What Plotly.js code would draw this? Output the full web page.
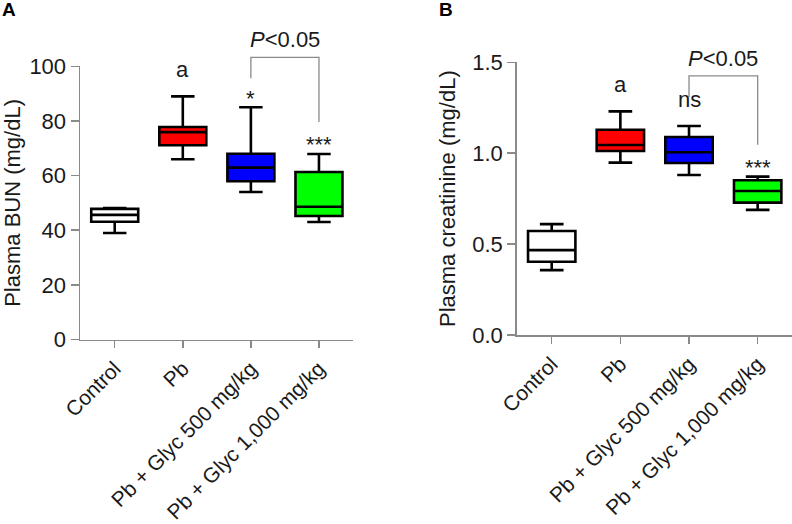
<!DOCTYPE html>
<html><head><meta charset="utf-8">
<script src="https://cdn.plot.ly/plotly-3.0.1.min.js"></script>
<style>html,body{margin:0;padding:0;background:#fff}</style>
</head><body><div id="chart" style="width:792px;height:524px"></div>
<script>
// ---- data ----
const categories = ['Control', 'Pb', 'Pb + Glyc 500 mg/kg', 'Pb + Glyc 1,000 mg/kg'];
// Panel A: plasma BUN (mg/dL)
const bunLower  = [39.0, 66.0, 54.0, 43.0];
const bunQ1     = [43.1, 71.1, 57.9, 45.2];
const bunMedian = [45.6, 75.9, 62.9, 48.6];
const bunQ3     = [47.8, 77.8, 68.0, 61.3];
const bunUpper  = [48.1, 89.0, 85.0, 67.9];
const bunSig    = ['', 'a', '*', '***'];
// Panel B: plasma creatinine (mg/dL)
const creLower  = [0.357, 0.948, 0.880, 0.688];
const creQ1     = [0.403, 1.012, 0.946, 0.728];
const creMedian = [0.467, 1.045, 1.005, 0.792];
const creQ3     = [0.572, 1.129, 1.089, 0.851];
const creUpper  = [0.610, 1.230, 1.150, 0.871];
const creSig    = ['', 'a', 'ns', '***'];
const bracketText = '<i>P</i><0.05';
const bracketPair = [2, 3];

// ---- styles ----
const fillColors = ['#ffffff', '#ff0000', '#0000ff', '#00ff00'];
const FONT = 'Liberation Sans, Arial, Helvetica, sans-serif';
const FS = 22;
const XFS = 21;
const TXT = '#1a1a1a';
const AXC = '#8a8a8a';
const W = 792, H = 524;
const xRange = [-0.51, 3.5];
const panels = [
  {xa: 'x', ya: 'y', lo: bunLower, q1: bunQ1, me: bunMedian, q3: bunQ3, up: bunUpper, sig: bunSig,
   yRange: [0, 100], xPix: [80, 353], yPix: [339.5, 66.3]},
  {xa: 'x2', ya: 'y2', lo: creLower, q1: creQ1, me: creMedian, q3: creQ3, up: creUpper, sig: creSig,
   yRange: [0, 1.5], xPix: [516.7, 792], yPix: [335, 62.3]}
];
const sigShift = {'a': 12, '*': -6, '***': -5, 'ns': 12, '': 0};

const traces = [];
const annotations = [];
const shapes = [];
panels.forEach(p => {
  categories.forEach((c, i) => {
    traces.push({
      type: 'box', x: [c], q1: [p.q1[i]], median: [p.me[i]], q3: [p.q3[i]],
      lowerfence: [p.lo[i]], upperfence: [p.up[i]],
      xaxis: p.xa, yaxis: p.ya, width: 0.69, whiskerwidth: 0.5,
      fillcolor: fillColors[i], line: {color: '#000', width: 2.6},
      showlegend: false, hoverinfo: 'skip'
    });
    if (p.sig[i]) {
      annotations.push({
        xref: p.xa, yref: p.ya, x: c, y: p.up[i], yanchor: 'bottom', yshift: sigShift[p.sig[i]],
        text: p.sig[i], showarrow: false, font: {family: FONT, size: FS, color: TXT}
      });
    }
  });
  // significance bracket between groups
  const plotH = p.yPix[0] - p.yPix[1];
  const yd = v => (v - p.yRange[0]) / (p.yRange[1] - p.yRange[0]);
  const xd = k => (k - xRange[0]) / (xRange[1] - xRange[0]);
  const a = bracketPair[0], b = bracketPair[1];
  const top = Math.max(yd(p.up[a]), yd(p.up[b])) + 50 / plotH;
  const endA = yd(p.up[a]) + 29 / plotH;
  const endB = yd(p.up[b]) + 32 / plotH;
  const xdRef = p.xa + ' domain', ydRef = p.ya + ' domain';
  shapes.push({type: 'path', xref: xdRef, yref: ydRef,
    path: `M${xd(a)},${endA} L${xd(a)},${top} L${xd(b)},${top} L${xd(b)},${endB}`,
    line: {color: AXC, width: 1.3}});
  annotations.push({xref: p.xa, yref: ydRef, x: (a + b) / 2, y: top, yanchor: 'bottom', yshift: 3,
    text: bracketText, showarrow: false, font: {family: FONT, size: FS, color: TXT}});
});

function xAxis(p, anchor) {
  return {domain: [p.xPix[0] / W, p.xPix[1] / W], anchor: anchor, type: 'category',
    categoryorder: 'array', categoryarray: categories, range: xRange,
    showline: true, linecolor: AXC, linewidth: 1.5, ticks: 'outside', ticklen: 7, tickwidth: 1.5,
    tickcolor: AXC, tickangle: -45, showgrid: false, zeroline: false, fixedrange: true,
    tickfont: {family: FONT, size: XFS, color: TXT}};
}
function yAxis(p, anchor, title, dtick, fmt) {
  return {domain: [(H - p.yPix[0]) / H, (H - p.yPix[1]) / H], anchor: anchor, range: p.yRange,
    dtick: dtick, tickformat: fmt, showline: true, linecolor: AXC, linewidth: 1.5,
    ticks: 'outside', ticklen: 8, tickwidth: 1.5, tickcolor: AXC, showgrid: false, zeroline: false,
    fixedrange: true, tickfont: {family: FONT, size: FS, color: TXT},
    title: {text: title, standoff: 10, font: {family: FONT, size: FS, color: TXT}}};
}

annotations.push({xref: 'paper', yref: 'paper', x: 0, y: 1, xanchor: 'left', yanchor: 'top', yshift: 3,
  text: '<b>A</b>', showarrow: false, font: {family: FONT, size: 19, color: '#000'}});
annotations.push({xref: 'paper', yref: 'paper', x: 437 / W, y: 1, xanchor: 'left', yanchor: 'top', yshift: 3,
  text: '<b>B</b>', showarrow: false, font: {family: FONT, size: 19, color: '#000'}});

const layout = {
  width: W, height: H, margin: {l: 0, r: 0, t: 0, b: 0},
  paper_bgcolor: '#fff', plot_bgcolor: '#fff', boxmode: 'overlay',
  font: {family: FONT, color: TXT},
  xaxis: xAxis(panels[0], 'y'),
  yaxis: yAxis(panels[0], 'x', 'Plasma BUN (mg/dL)', 20, 'd'),
  xaxis2: xAxis(panels[1], 'y2'),
  yaxis2: yAxis(panels[1], 'x2', 'Plasma creatinine (mg/dL)', 0.5, '.1f'),
  annotations: annotations, shapes: shapes
};
Plotly.newPlot('chart', traces, layout, {displayModeBar: false, staticPlot: true});
</script></body></html>
